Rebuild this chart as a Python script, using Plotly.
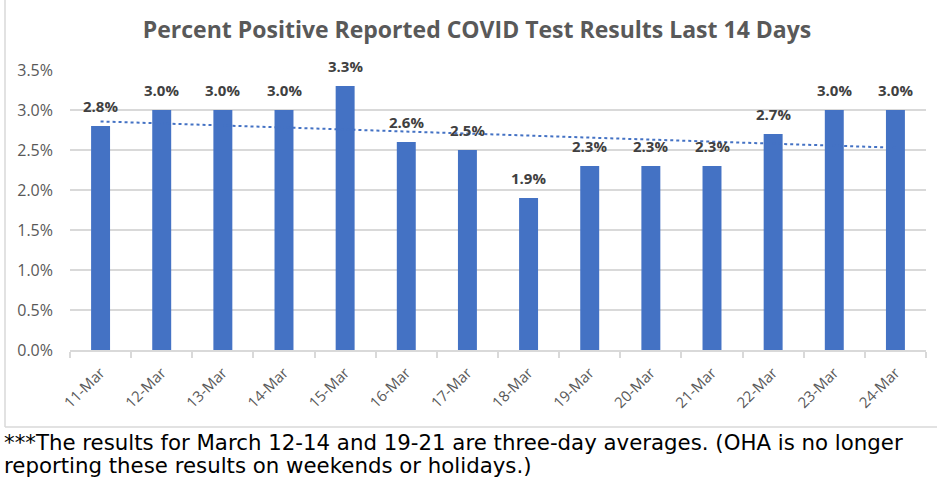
import numpy as np
import plotly.graph_objects as go

categories = ["11-Mar", "12-Mar", "13-Mar", "14-Mar", "15-Mar", "16-Mar", "17-Mar",
              "18-Mar", "19-Mar", "20-Mar", "21-Mar", "22-Mar", "23-Mar", "24-Mar"]
percent_positive = [2.8, 3.0, 3.0, 3.0, 3.3, 2.6, 2.5, 1.9, 2.3, 2.3, 2.3, 2.7, 3.0, 3.0]
y_ticks = [0, 0.5, 1.0, 1.5, 2.0, 2.5, 3.0, 3.5]
y_tick_labels = ["0.0%", "0.5%", "1.0%", "1.5%", "2.0%", "2.5%", "3.0%", "3.5%"]
title_text = "Percent Positive Reported COVID Test Results Last 14 Days"
footnote_lines = [
    "***The results for March 12-14 and 19-21 are three-day averages. (OHA is no longer",
    "reporting these results on weekends or holidays.)",
]

# linear trendline from the data
idx = np.arange(len(percent_positive))
slope, intercept = np.polyfit(idx, percent_positive, 1)
trend = slope * idx + intercept

W, H = 937, 487
L, R, T, B = 70, 11, 70, 137


def px_to_paper_x(px):
    return (px - L) / (W - L - R)


def px_to_paper_y(py):
    return (H - B - py) / (H - T - B)


fig = go.Figure()
fig.add_trace(go.Bar(
    x=categories, y=percent_positive,
    marker=dict(color="#4472C4", line=dict(width=0)),
    hoverinfo="skip",
))
fig.add_trace(go.Scatter(
    x=categories, y=trend, mode="lines",
    line=dict(color="#4472C4", width=2, dash="dot"),
    hoverinfo="skip",
))

# data labels
for cat, v in zip(categories, percent_positive):
    fig.add_annotation(
        x=cat, y=v, xref="x", yref="y", text=f"{v:.1f}%",
        showarrow=False, xanchor="center", yanchor="bottom", yshift=8,
        font=dict(family="Open Sans", size=15, color="#404040", weight="bold"),
    )

# chart border (left & bottom visible in reference)
fig.add_shape(type="line", xref="paper", yref="paper",
              x0=px_to_paper_x(5), x1=px_to_paper_x(5),
              y0=px_to_paper_y(427), y1=px_to_paper_y(-5),
              line=dict(color="#D9D9D9", width=1.5))
fig.add_shape(type="line", xref="paper", yref="paper",
              x0=px_to_paper_x(5), x1=px_to_paper_x(945),
              y0=px_to_paper_y(427), y1=px_to_paper_y(427),
              line=dict(color="#D9D9D9", width=1.5))

for i, line in enumerate(footnote_lines):
    fig.add_annotation(
        text=line, xref="paper", yref="paper",
        x=px_to_paper_x(3), y=px_to_paper_y(442 + 23.5 * i),
        xanchor="left", yanchor="middle", align="left", showarrow=False,
        font=dict(family="DejaVu Sans", size=21.3, color="#000000"),
        borderpad=0,
    )

fig.update_layout(
    width=W, height=H,
    margin=dict(l=L, r=R, t=T, b=B),
    paper_bgcolor="white", plot_bgcolor="white",
    showlegend=False,
    bargap=0.69,
    title=dict(text=title_text, x=px_to_paper_x(477) * (W - L - R) / W + L / W,
               xanchor="center", y=1 - 30 / H, yanchor="middle",
               font=dict(family="Open Sans", size=23, color="#595959", weight="bold")),
    xaxis=dict(
        type="category", tickangle=-45,
        tickfont=dict(family="Open Sans", size=15, color="#595959"),
        showline=True, linecolor="#D9D9D9", linewidth=2,
        ticks="outside", tickson="boundaries", ticklen=6, tickcolor="#D9D9D9", tickwidth=2,
        showgrid=False, ticklabelstandoff=6,
    ),
    yaxis=dict(
        range=[0, 3.5], tickvals=y_ticks, ticktext=y_tick_labels,
        tickfont=dict(family="Open Sans", size=16, color="#595959"),
        showgrid=True, gridcolor="#D9D9D9", gridwidth=2,
        zeroline=False, showline=False, ticks="", ticklabelstandoff=16,
    ),
)

fig.write_html(
    "out.html",
    config={"displayModeBar": False},
    post_script="document.body.style.margin='0';document.body.style.padding='0';"
                "document.documentElement.style.overflow='hidden';",
)
